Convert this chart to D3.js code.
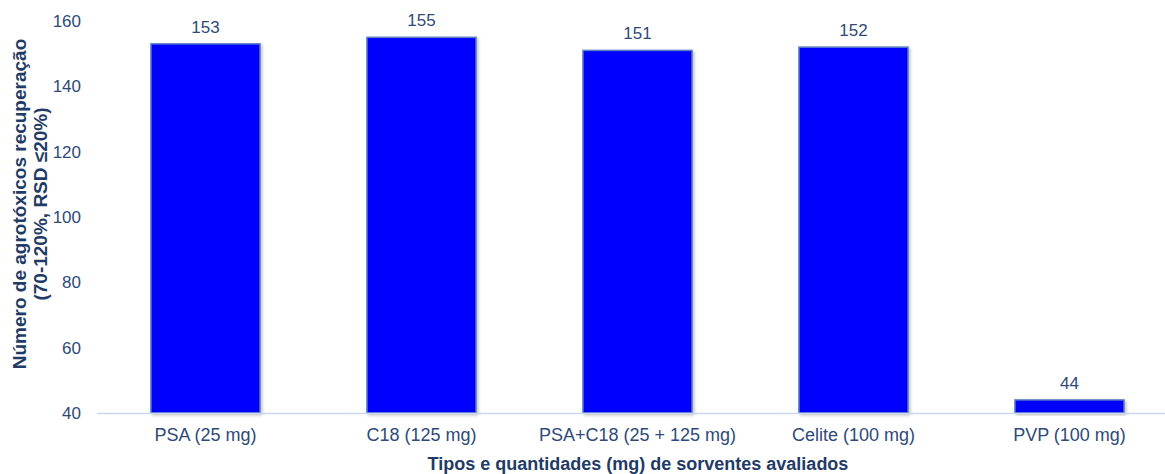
<!DOCTYPE html>
<html><head><meta charset="utf-8">
<script src="https://cdn.jsdelivr.net/npm/d3@7"></script>
<style>body{margin:0;background:#fff}svg{display:block}</style>
</head><body>
<svg id="c" width="1165" height="474"></svg>
<script>
const categories = ["PSA (25 mg)", "C18 (125 mg)", "PSA+C18 (25 + 125 mg)", "Celite (100 mg)", "PVP (100 mg)"];
const values = [153, 155, 151, 152, 44];
const yTicks = [40, 60, 80, 100, 120, 140, 160];
const yTitle = ["Número de agrotóxicos recuperação", "(70-120%, RSD ≤20%)"];
const xTitle = "Tipos e quantidades (mg) de sorventes avaliados";

const svg = d3.select("#c");
const font = "'Liberation Sans', Arial, sans-serif";
const textCol = "#2e4a78";
const titleCol = "#1f3b66";

const x = d3.scaleBand().domain(categories).range([97.5, 1177.5]).paddingInner(0.495).paddingOuter(0.2475);
const y = d3.scaleLinear().domain([40, 160]).range([413, 21]);

const defs = svg.append("defs");
const f = defs.append("filter").attr("id","sh").attr("x","-10%").attr("y","-10%").attr("width","130%").attr("height","130%");
f.append("feDropShadow").attr("dx",1.5).attr("dy",1.5).attr("stdDeviation",1.5).attr("flood-color","#000").attr("flood-opacity",0.25);

// y tick labels
svg.append("g").selectAll("text").data(yTicks).join("text")
  .attr("x", 81).attr("y", d => y(d) + 6)
  .attr("text-anchor", "end").attr("font-family", font).attr("font-size", 17)
  .attr("fill", textCol).text(d => d);

// bars
svg.append("g").selectAll("rect").data(values).join("rect")
  .attr("x", (d,i) => x(categories[i])).attr("width", x.bandwidth())
  .attr("y", d => y(d)).attr("height", d => y(40) - y(d))
  .attr("fill", "#0000ff").attr("stroke", "#5b7fc4").attr("stroke-width", 1.5)
  .attr("filter", "url(#sh)");

// axis line
svg.append("line").attr("x1", 97).attr("x2", 1165).attr("y1", y(40)+0.5).attr("y2", y(40)+0.5)
  .attr("stroke", "#c9d8ee").attr("stroke-width", 1.5);

// value labels
svg.append("g").selectAll("text").data(values).join("text")
  .attr("x", (d,i) => x(categories[i]) + x.bandwidth()/2).attr("y", d => y(d) - 11)
  .attr("text-anchor", "middle").attr("font-family", font).attr("font-size", 17)
  .attr("fill", textCol).text(d => d);

// category labels
svg.append("g").selectAll("text").data(categories).join("text")
  .attr("x", d => x(d) + x.bandwidth()/2).attr("y", 441)
  .attr("text-anchor", "middle").attr("font-family", font).attr("font-size", 18)
  .attr("fill", textCol).text(d => d);

// x title
svg.append("text").attr("x", 638).attr("y", 470).attr("text-anchor", "middle")
  .attr("font-family", font).attr("font-size", 18).attr("font-weight", "bold")
  .attr("fill", titleCol).text(xTitle);

// y title
const yt = svg.append("text").attr("transform", "translate(26,204) rotate(-90)")
  .attr("text-anchor", "middle").attr("font-family", font).attr("font-size", 19)
  .attr("font-weight", "bold").attr("fill", titleCol);
yTitle.forEach((t,i) => yt.append("tspan").attr("x", 0).attr("dy", i === 0 ? 0 : 21).text(t));
</script>
</body></html>
